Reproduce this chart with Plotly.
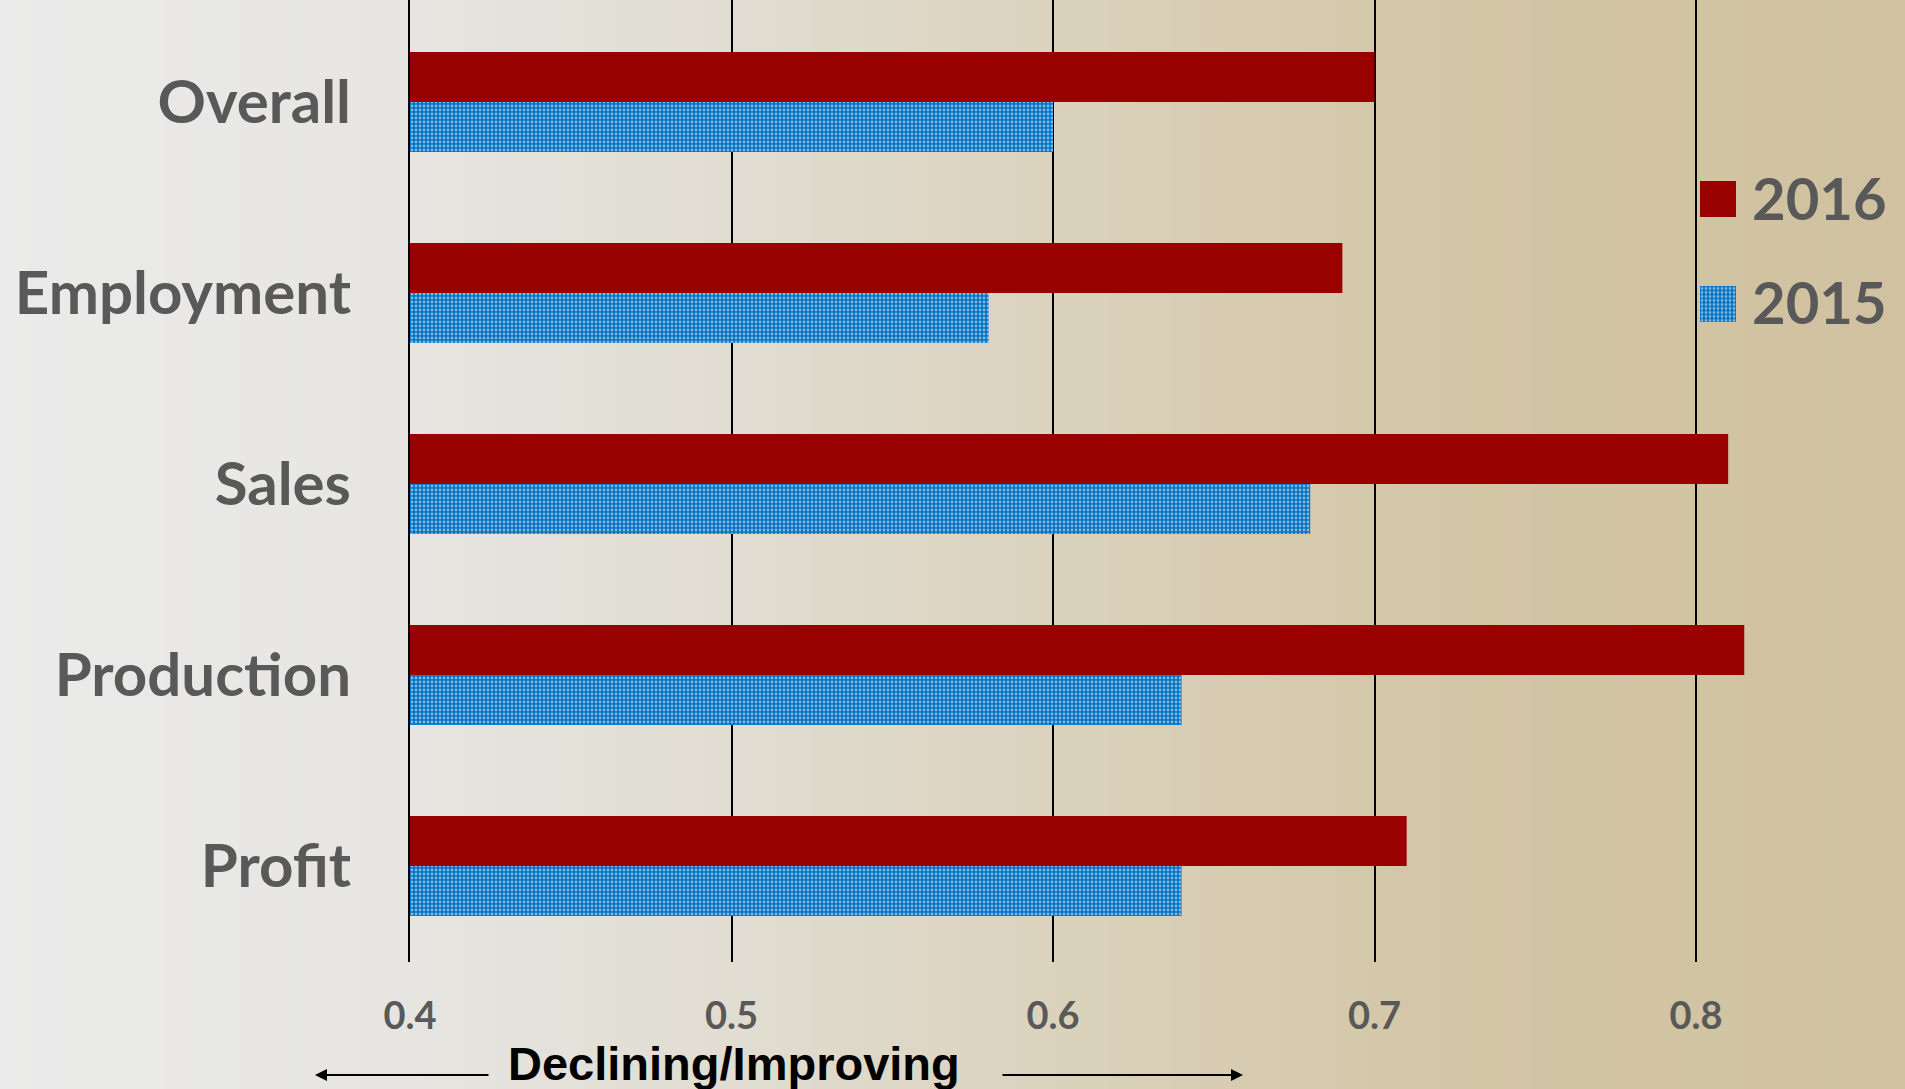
import numpy as np
import plotly.graph_objects as go

# data
categories = ["Overall", "Employment", "Sales", "Production", "Profit"]
values_2016 = [0.70, 0.69, 0.81, 0.815, 0.71]
values_2015 = [0.60, 0.58, 0.68, 0.64, 0.64]
series_names = ["2016", "2015"]
x_ticks = [0.4, 0.5, 0.6, 0.7, 0.8]
axis_note = "Declining/Improving"

W, H = 1905, 1089
L, B = 410, 127
PW, PH = W - L, H - B

RED = "#990000"
BLUE = "#0070C0"
GREY_TXT = "#595959"


def px2x(px):
    return (px - L) / PW


def px2y(py):
    return (PH - py) / PH


dots = dict(shape=".", fgcolor="white", bgcolor=BLUE, size=4, solidity=0.4)

fig = go.Figure()

fig.add_trace(go.Bar(
    y=categories, x=values_2016, name=series_names[0], orientation="h",
    marker=dict(color=RED, line=dict(width=0)), showlegend=False,
))
fig.add_trace(go.Bar(
    y=categories, x=values_2015, name=series_names[1], orientation="h",
    marker=dict(color=BLUE, line=dict(width=0), pattern=dots),
    showlegend=False,
))

# legend swatches drawn as tiny bars on an overlay axis (big squares)
fig.add_trace(go.Bar(
    y=[0, 1], x=[1, 1], orientation="h", width=0.343,
    xaxis="x2", yaxis="y2", showlegend=False, hoverinfo="skip",
    marker=dict(color=[RED, BLUE], line=dict(width=0),
                pattern=dict(dots, shape=["", "."])),
))

# background gradient strips
stops_px = [0, 400, 800, 1150, 1450, 1905]
stops_rgb = np.array([[235, 235, 235], [230, 229, 225], [224, 219, 206],
                      [217, 207, 183], [211, 198, 166], [208, 194, 160]])
shapes = []
step = 15
for x0 in range(0, W, step):
    xm = x0 + step / 2
    c = [int(round(np.interp(xm, stops_px, stops_rgb[:, k]))) for k in range(3)]
    shapes.append(dict(
        type="rect", xref="paper", yref="paper", layer="below",
        x0=px2x(x0), x1=px2x(x0 + step + 1), y0=px2y(H), y1=px2y(0),
        fillcolor="rgb(%d,%d,%d)" % tuple(c), line=dict(width=0),
    ))

cat_font = dict(family="Lato", size=60, color=GREY_TXT, weight="bold")
leg_font = dict(family="Lato", size=58, color=GREY_TXT, weight="bold")

annotations = [
    dict(text=axis_note, xref="paper", yref="paper", x=px2x(734), y=px2y(1063),
         showarrow=False, xanchor="center", yanchor="middle",
         font=dict(family="Liberation Sans", size=47, color="black", weight="bold")),
    dict(text="", xref="paper", yref="paper", x=px2x(315), y=px2y(1075),
         ax=175, ay=0, showarrow=True, arrowhead=2, arrowsize=1.2,
         arrowwidth=2, arrowcolor="black"),
    dict(text="", xref="paper", yref="paper", x=px2x(1243), y=px2y(1075),
         ax=-242, ay=0, showarrow=True, arrowhead=2, arrowsize=1.2,
         arrowwidth=2, arrowcolor="black"),
    dict(text=series_names[0], xref="paper", yref="paper", x=px2x(1750), y=px2y(198),
         showarrow=False, xanchor="left", yanchor="middle", font=leg_font),
    dict(text=series_names[1], xref="paper", yref="paper", x=px2x(1750), y=px2y(302),
         showarrow=False, xanchor="left", yanchor="middle", font=leg_font),
]

fig.update_layout(
    width=W, height=H, autosize=False,
    margin=dict(l=L, r=0, t=0, b=B, pad=0),
    paper_bgcolor="#e6e1d6", plot_bgcolor="rgba(0,0,0,0)",
    barmode="group", bargap=0.476, bargroupgap=0,
    shapes=shapes, annotations=annotations,
    xaxis=dict(
        range=[0.4, 0.865], tickvals=x_ticks, tickformat=".1f",
        showgrid=True, gridcolor="black", gridwidth=2, zeroline=False,
        showline=False, ticks="", ticklabelstandoff=28,
        tickfont=dict(family="Lato", size=38, color=GREY_TXT, weight="bold"),
        fixedrange=True,
    ),
    yaxis=dict(
        type="category", range=[4.503, -0.534], showgrid=False, zeroline=False,
        showline=True, linecolor="black", linewidth=2, ticks="",
        ticklabelstandoff=45, tickfont=cat_font, fixedrange=True,
    ),
    xaxis2=dict(domain=[px2x(1700), px2x(1736)], anchor="y2", range=[0, 1],
                visible=False, fixedrange=True),
    yaxis2=dict(domain=[px2y(356.5), px2y(146.5)], anchor="x2", range=[1.5, -0.5],
                visible=False, fixedrange=True),
)

fig.write_html(
    "out.html",
    config={"displayModeBar": False},
    post_script="document.body.style.margin='0';document.body.style.overflow='hidden';",
)
